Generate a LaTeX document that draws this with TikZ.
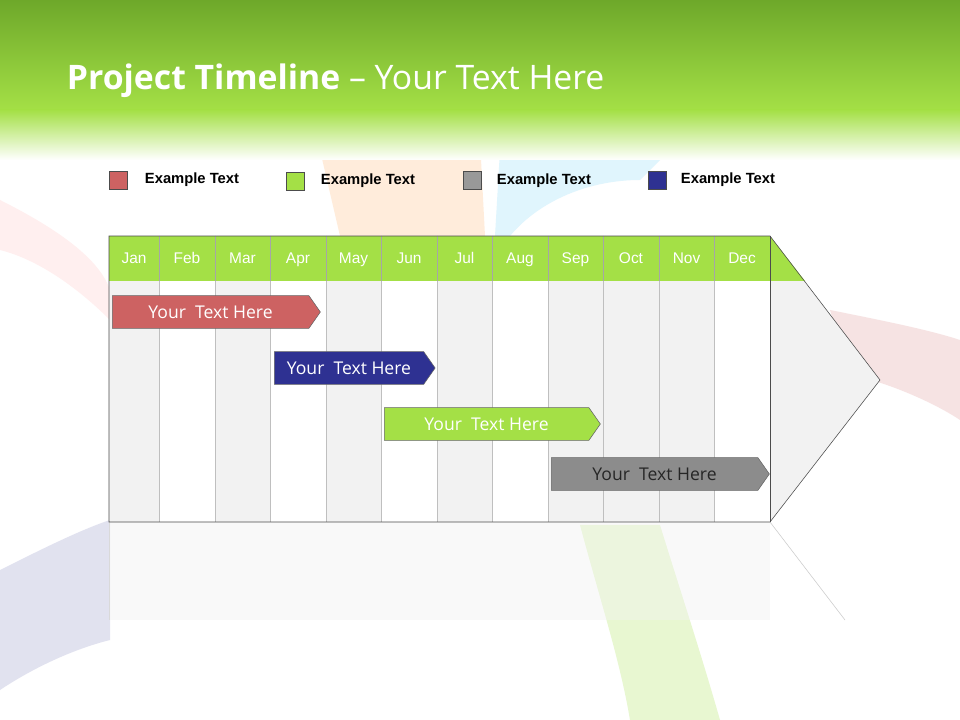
\documentclass[tikz,border=0pt]{standalone}
\usepackage{fontspec}
\setmainfont{Liberation Sans}
\newfontfamily\titlefont{Open Sans}
\usetikzlibrary{shapes.symbols}
\definecolor{hgreen}{HTML}{A4E046}
\definecolor{dgreen}{HTML}{6EA82A}
\definecolor{cred}{HTML}{CD6262}
\definecolor{cnavy}{HTML}{2E3192}
\definecolor{cgrey}{HTML}{8C8C8C}
\definecolor{colg}{HTML}{F2F2F2}
\tikzset{
 px/.style={x=0.025cm,y=-0.025cm},
 legsq/.style={draw=black!70,minimum size=0.45cm,inner sep=0},
 legtx/.style={anchor=west,font=\bfseries\fontsize{10.5}{12}\selectfont},
 mon/.style={font=\fontsize{11}{12}\selectfont,text=white,anchor=base},
 bar/.style={signal,signal to=east,signal pointer angle=110,draw=black!60,minimum height=0.82cm,inner sep=0,font=\titlefont\fontsize{12.5}{14}\selectfont,anchor=west}
}
\begin{document}
\begin{tikzpicture}[px]
\useasboundingbox (0,0) rectangle (960,720);
\fill[white] (0,0) rectangle (960,720);
% background swirls
\fill[pink!40,opacity=0.6] (0,200) .. controls (60,230) and (100,260) .. (110,290) -- (110,320) .. controls (80,290) and (40,260) .. (0,250) -- cycle;
\fill[cnavy!20,opacity=0.7] (0,570) .. controls (40,550) and (80,530) .. (110,520) -- (110,640) .. controls (70,650) and (30,670) .. (0,690) -- cycle;
\fill[cred!25,opacity=0.7] (830,310) .. controls (880,320) and (930,330) .. (960,340) -- (960,420) .. controls (930,400) and (880,380) .. (850,375) -- cycle;
\fill[hgreen!25] (580,525) .. controls (600,600) and (620,660) .. (630,720) -- (720,720) .. controls (700,650) and (680,590) .. (660,525) -- cycle;
\fill[orange!20,opacity=0.7] (320,150) -- (480,140) -- (485,236) -- (340,236) -- cycle;
\fill[cyan!12] (500,150) .. controls (560,130) and (620,130) .. (680,140) -- (640,180) .. controls (590,180) and (540,200) .. (510,236) -- (495,236) -- cycle;
% header
\shade[top color=dgreen,bottom color=hgreen] (0,0) rectangle (960,110);
\shade[top color=hgreen,bottom color=white] (0,110) rectangle (960,160);
\node[anchor=west,text=white,font=\titlefont\fontsize{24}{27}\selectfont] (title) at (62,81) {\textbf{Project Timeline} – Your Text Here};
% legend
\node[legsq,fill=cred] (l1) at (118,180) {}; \node[legtx] (t1) at (140,180) {Example Text};
\node[legsq,fill=hgreen] (l2) at (295,181) {}; \node[legtx] (t2) at (316,181) {Example Text};
\node[legsq,fill=black!40] (l3) at (472,180) {}; \node[legtx] (t3) at (492,181) {Example Text};
\node[legsq,fill=cnavy] (l4) at (657,180) {}; \node[legtx] (t4) at (676,180) {Example Text};
% arrow body
\fill[colg] (770,236) -- (880,380) -- (770,522) -- cycle;
\fill[hgreen] (770,236) -- (805,281) -- (770,281) -- cycle;
% reflection
\fill[white!90!gray,opacity=0.4] (109,522) rectangle (770,620);
\draw[black!20] (770,522) -- (845,620);
\draw[black!15] (109,522) -- (109,620);
% columns
\foreach \a/\b/\m/\c [count=\i] in {109/159/Jan/colg,159/215/Feb/white,215/270/Mar/colg,270/326/Apr/white,326/381/May/colg,381/437/Jun/white,437/492/Jul/colg,492/548/Aug/white,548/603/Sep/colg,603/659/Oct/colg,659/714/Nov/colg,714/770/Dec/white}{
  \fill[\c] (\a,281) rectangle (\b,522);
  \fill[hgreen] (\a,236) rectangle (\b,281);
  \node[mon] (m\i) at ({(\a+\b)/2},264) {\m};
}
\foreach \b in {159,215,270,326,381,437,492,548,603,659,714}{
  \draw[black!25] (\b,281) -- (\b,522);
  \draw[black!35] (\b,236) -- (\b,281);
}
\draw[black!70] (109,236) -- (770,236) -- (880,380) -- (770,522) -- (109,522) -- cycle;
\draw[black!70] (770,236) -- (770,522);
% bars
\node[bar,fill=cred,text=white,minimum width=5.2cm] (b1) at (112,312) {Your\ \ Text Here};
\node[bar,fill=cnavy,text=white,minimum width=4.02cm] (b2) at (274,368) {Your\ \ Text Here};
\node[bar,fill=hgreen,text=white,minimum width=5.4cm] (b3) at (384,424) {Your\ \ Text Here};
\node[bar,fill=cgrey,text=black!85,minimum width=5.45cm] (b4) at (551,474) {Your\ \ Text Here};
\end{tikzpicture}
\end{document}
